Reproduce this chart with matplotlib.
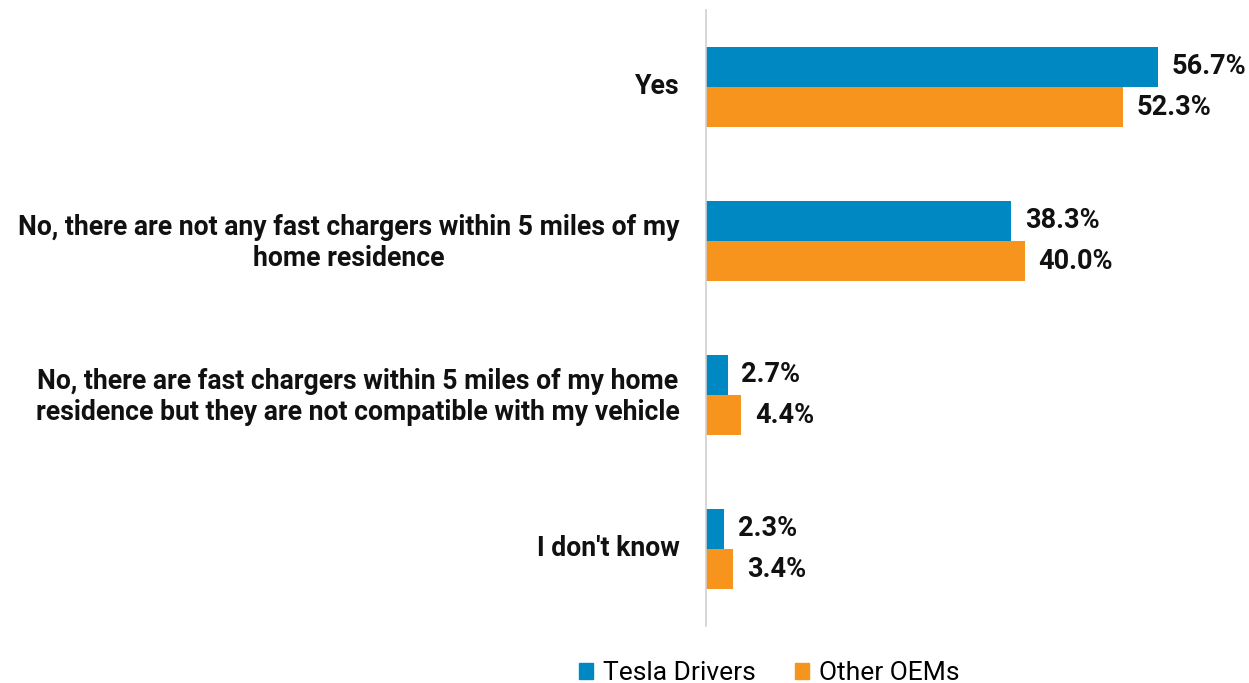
import matplotlib
matplotlib.use("Agg")
import matplotlib.pyplot as plt
import numpy as np
from matplotlib.patches import Patch
from matplotlib.transforms import ScaledTranslation

plt.rcParams['font.family'] = ['Roboto', 'DejaVu Sans']

categories = [
    "Yes",
    "No, there are not any fast chargers within 5 miles of my\nhome residence",
    "No, there are fast chargers within 5 miles of my home\nresidence but they are not compatible with my vehicle",
    "I don't know",
]
series_names = ["Tesla Drivers", "Other OEMs"]
tesla = [56.7, 38.3, 2.7, 2.3]
other = [52.3, 40.0, 4.4, 3.4]
colors = ["#0088C2", "#F7941D"]

W, H = 1249, 683
fig = plt.figure(figsize=(W / 100, H / 100), dpi=100)
ax = fig.add_axes([706 / W, 1 - 626 / H, 478 / W, 616 / H])

y = np.arange(len(categories))
bh = 0.26
b1 = ax.barh(y - bh / 2, tesla, height=bh, color=colors[0])
b2 = ax.barh(y + bh / 2, other, height=bh, color=colors[1])

for bars, vals in ((b1, tesla), (b2, other)):
    for rect, v in zip(bars, vals):
        ax.text(rect.get_width() + 1.75, rect.get_y() + rect.get_height() / 2,
                f"{v:.1f}%", va="center", ha="left", fontsize=19.5,
                fontweight="bold", color="#111111")

ax.set_ylim(len(categories) - 0.5, -0.5)
ax.set_xlim(0, 60)
ax.set_yticks(y)
ax.set_yticklabels(categories, fontsize=19.2, fontweight="bold", color="#111111",
                   ha="right", multialignment="center", linespacing=1.2)
ax.tick_params(axis="y", length=0, pad=19)
# nudge category labels slightly upward
shift = ScaledTranslation(0, 3 / 100, fig.dpi_scale_trans)
for lbl in ax.get_yticklabels():
    lbl.set_transform(lbl.get_transform() + shift)
ax.set_xticks([])
for s in ("top", "right", "bottom"):
    ax.spines[s].set_visible(False)
ax.spines["left"].set_color("#d0d0d0")
ax.spines["left"].set_linewidth(1.2)

handles = [Patch(color=c) for c in colors]
fig.legend(handles, series_names, loc="center", bbox_to_anchor=(769 / W, 1 - 673 / H),
           ncol=2, frameon=False, fontsize=19, handlelength=0.55, handleheight=0.55,
           handletextpad=0.35, columnspacing=1.5, borderaxespad=0, borderpad=0)

fig.savefig("out.png", dpi=100)
